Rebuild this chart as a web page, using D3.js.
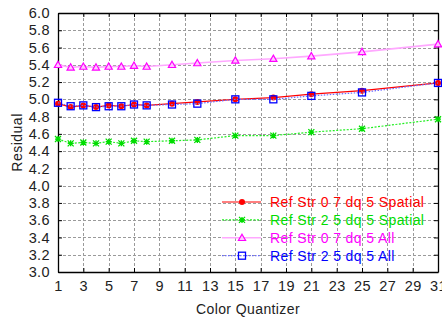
<!DOCTYPE html>
<html>
<head>
<meta charset="utf-8">
<script src="https://cdn.jsdelivr.net/npm/d3@7"></script>
<style>
  html, body { margin: 0; padding: 0; background: #fff; }
  svg { display: block; font-family: "Liberation Sans", Arial, sans-serif; }
</style>
</head>
<body>
<svg id="chart" width="442" height="320"></svg>
<script>
// Color quantizer settings on the x axis
const quantizers = [1, 2, 3, 4, 5, 6, 7, 8, 10, 12, 15, 18, 21, 25, 31];

// Residual per configuration
const refStr07Spatial = [4.95, 4.91, 4.93, 4.91, 4.93, 4.92, 4.94, 4.93, 4.95, 4.97, 5.00, 5.02, 5.06, 5.10, 5.19];
const refStr25Spatial = [4.54, 4.49, 4.50, 4.49, 4.51, 4.49, 4.52, 4.51, 4.52, 4.53, 4.58, 4.58, 4.62, 4.66, 4.77];
const refStr07All     = [5.40, 5.37, 5.38, 5.37, 5.38, 5.38, 5.39, 5.38, 5.40, 5.42, 5.45, 5.47, 5.50, 5.55, 5.64];
const refStr25All     = [4.96, 4.92, 4.93, 4.91, 4.92, 4.92, 4.94, 4.93, 4.94, 4.95, 5.00, 5.00, 5.04, 5.08, 5.19];

const seriesNames = [
  "Ref Str 0 7 dq 5 Spatial",
  "Ref Str 2 5 dq 5 Spatial",
  "Ref Str 0 7 dq 5 All",
  "Ref Str 2 5 dq 5 All"
];

const xTicks = [1, 3, 5, 7, 9, 11, 13, 15, 17, 19, 21, 23, 25, 27, 29, 31];
const yTicks = [3.0, 3.2, 3.4, 3.6, 3.8, 4.0, 4.2, 4.4, 4.6, 4.8, 5.0, 5.2, 5.4, 5.6, 5.8, 6.0];

const series = [
  { name: seriesNames[0], values: refStr07Spatial, line: "#ff0000", dash: null,  width: 1.2, marker: "circle",   mcolor: "#ff0000", text: "#ff0000" },
  { name: seriesNames[1], values: refStr25Spatial, line: "#22ee22", dash: "2,1.5", width: 1.2, marker: "asterisk", mcolor: "#00dd00", text: "#00dd00" },
  { name: seriesNames[2], values: refStr07All,     line: "#ffa8ff", dash: null,  width: 1.6, marker: "triangle", mcolor: "#ff00ff", text: "#ff00ff" },
  { name: seriesNames[3], values: refStr25All,     line: "#6a6aff", dash: "1.5,1.5", width: 1.2, marker: "square",   mcolor: "#0000ff", text: "#0000ff" }
];

const svg = d3.select("#chart");
const plotLeft = 58, plotRight = 438, plotTop = 13, plotBottom = 272;

const x = d3.scaleLinear().domain([1, 31]).range([plotLeft, plotRight]);
const y = d3.scaleLinear().domain([3.0, 6.0]).range([plotBottom, plotTop]);

// Dashed grid
const grid = svg.append("g").attr("stroke", "#9a9a9a").attr("stroke-width", 1).attr("stroke-dasharray", "3,2");
grid.selectAll("line.v").data(xTicks.slice(1, -1)).join("line")
  .attr("x1", d => Math.round(x(d)) + 0.5).attr("x2", d => Math.round(x(d)) + 0.5)
  .attr("y1", plotTop).attr("y2", plotBottom);
grid.selectAll("line.h").data(yTicks.slice(1, -1)).join("line")
  .attr("y1", d => Math.round(y(d)) + 0.5).attr("y2", d => Math.round(y(d)) + 0.5)
  .attr("x1", plotLeft).attr("x2", plotRight);

// Axes with inward ticks on all four sides
const tickFont = g => g.selectAll("text").attr("font-size", 14.5).attr("letter-spacing", 0.4).attr("fill", "#222")
  .attr("font-family", "'Liberation Sans', Arial, sans-serif");
const axisStyle = g => { g.select(".domain").attr("stroke", "#000").attr("stroke-width", 1.3); g.selectAll(".tick line").attr("stroke", "#000"); };

svg.append("g").attr("transform", `translate(0,${plotBottom})`)
  .call(d3.axisBottom(x).tickValues(xTicks).tickSizeInner(-4).tickSizeOuter(0).tickPadding(9).tickFormat(d3.format("d")))
  .call(axisStyle).call(tickFont);
svg.append("g").attr("transform", `translate(0,${plotTop})`)
  .call(d3.axisTop(x).tickValues(xTicks).tickSizeInner(-4).tickSizeOuter(0).tickFormat(""))
  .call(axisStyle);
svg.append("g").attr("transform", `translate(${plotLeft},0)`)
  .call(d3.axisLeft(y).tickValues(yTicks).tickSizeInner(-4).tickSizeOuter(0).tickPadding(8).tickFormat(d3.format(".1f")))
  .call(axisStyle).call(tickFont);
svg.append("g").attr("transform", `translate(${plotRight},0)`)
  .call(d3.axisRight(y).tickValues(yTicks).tickSizeInner(-4).tickSizeOuter(0).tickFormat(""))
  .call(axisStyle);

// Axis titles
svg.append("text").attr("x", (plotLeft + plotRight) / 2).attr("y", 314).attr("text-anchor", "middle")
  .attr("font-size", 14).attr("letter-spacing", 0.4).attr("fill", "#222").text("Color Quantizer");
svg.append("text").attr("transform", `translate(22,${(plotTop + plotBottom) / 2}) rotate(-90)`)
  .attr("text-anchor", "middle").attr("font-size", 14).attr("letter-spacing", 0.5).attr("fill", "#222").text("Residual");

// Marker drawing
function drawMarker(g, type, color, cx, cy) {
  if (type === "circle") {
    g.append("circle").attr("cx", cx).attr("cy", cy).attr("r", 3).attr("fill", color);
  } else if (type === "asterisk") {
    const s = 3;
    const p = `M${cx - s},${cy}L${cx + s},${cy}M${cx},${cy - s}L${cx},${cy + s}` +
              `M${cx - s},${cy - s}L${cx + s},${cy + s}M${cx - s},${cy + s}L${cx + s},${cy - s}`;
    g.append("path").attr("d", p).attr("stroke", color).attr("stroke-width", 1.3).attr("fill", "none");
  } else if (type === "triangle") {
    const s = 3.6;
    g.append("path").attr("d", `M${cx},${cy - s}L${cx + s},${cy + s * 0.75}L${cx - s},${cy + s * 0.75}Z`)
      .attr("stroke", color).attr("stroke-width", 1.2).attr("fill", "#ffc8ff");
  } else if (type === "square") {
    g.append("rect").attr("x", cx - 3.5).attr("y", cy - 3.5).attr("width", 7).attr("height", 7)
      .attr("stroke", color).attr("stroke-width", 1.3).attr("fill", "none");
  }
}

// Series lines and markers
const lineGen = d3.line().x((d, i) => x(quantizers[i])).y(d => y(d));
series.forEach(s => {
  const g = svg.append("g");
  g.append("path").attr("d", lineGen(s.values)).attr("fill", "none")
    .attr("stroke", s.line).attr("stroke-width", s.width)
    .attr("stroke-dasharray", s.dash);
  s.values.forEach((v, i) => drawMarker(g, s.marker, s.mcolor, x(quantizers[i]), y(v)));
});

// Legend
const legend = svg.append("g");
series.forEach((s, i) => {
  const ly = 202 + i * 17.9;
  legend.append("line").attr("x1", 222).attr("x2", 261).attr("y1", ly).attr("y2", ly)
    .attr("stroke", s.line).attr("stroke-width", s.width).attr("stroke-dasharray", s.dash);
  drawMarker(legend, s.marker, s.mcolor, 242, ly);
  legend.append("text").attr("x", 270).attr("y", ly + 5).attr("font-size", 14).attr("letter-spacing", 0.4)
    .attr("fill", s.text).text(s.name);
});
</script>
</body>
</html>
